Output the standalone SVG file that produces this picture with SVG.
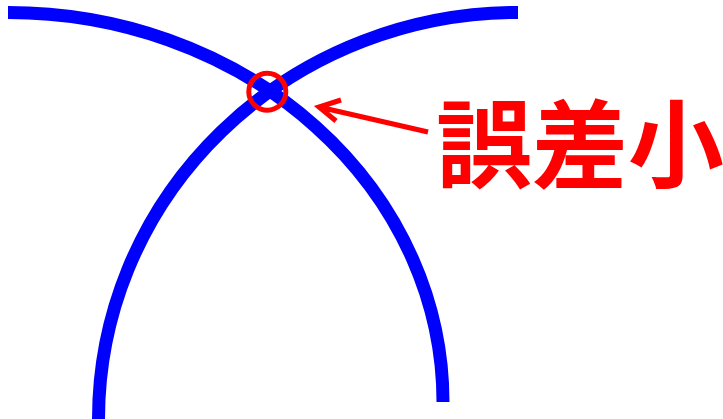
<svg xmlns="http://www.w3.org/2000/svg" width="723" height="419" viewBox="0 0 723 419">
<style>
.arc{fill:none;stroke:#0000ff;stroke-width:13}
.red{fill:none;stroke:#ff0000;stroke-width:5}
.lbl{fill:#ff0000;font-family:"Noto Sans CJK JP","Noto Sans CJK SC",sans-serif;font-weight:bold;font-size:96px}
</style>
<rect width="723" height="419" fill="#ffffff"/>
<g id="connectors">
<path class="arc" d="M8,12.5 A435,389.5 0 0 1 443,402"/>
<path class="arc" d="M518,12.5 A419.5,406.5 0 0 0 98.5,419"/>
<path class="red" d="M428,132 L319,107 M341,100 L319,107 L336,121"/>
</g>
<g id="marker">
<circle class="red" cx="267.3" cy="91.7" r="18.5"/>
</g>
<g id="label">
<text class="lbl" x="436" y="180">誤差小</text>
</g>
</svg>
